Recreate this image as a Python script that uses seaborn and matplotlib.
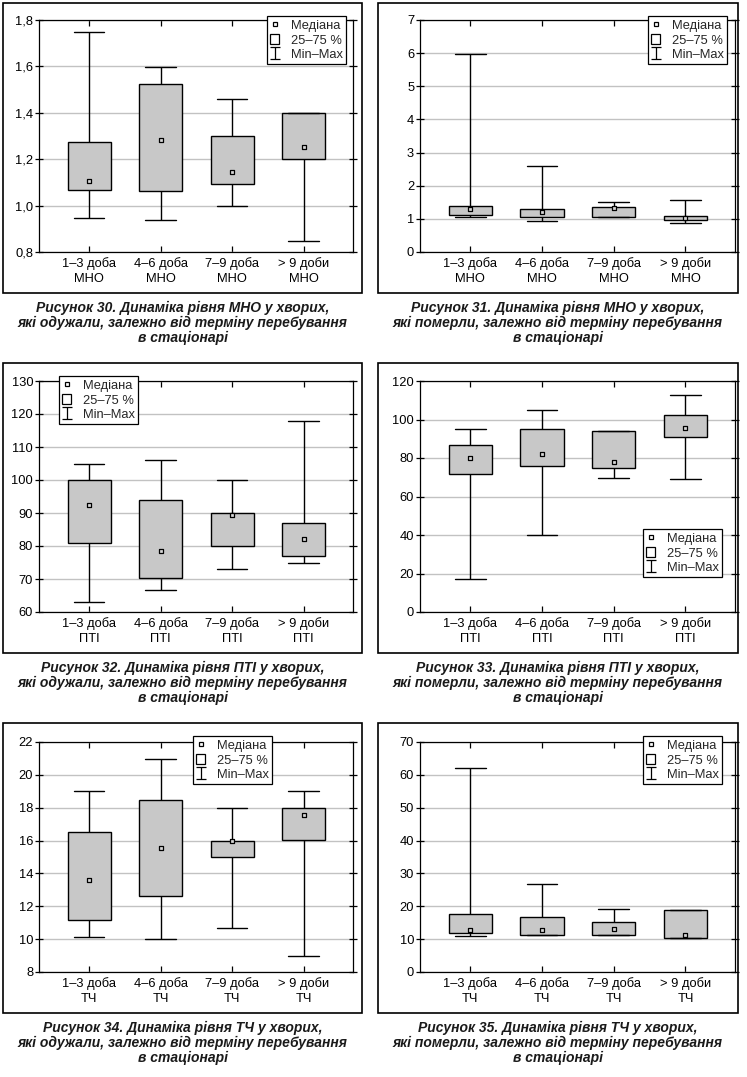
import numpy as np
import pandas as pd
import matplotlib
matplotlib.use("Agg")
import matplotlib.pyplot as plt
import seaborn as sns
from matplotlib.path import Path
from matplotlib.lines import Line2D
from matplotlib.patches import Rectangle, Patch

sns.set_theme(style="white")
plt.rcParams['font.family'] = ['Liberation Sans', 'DejaVu Sans']

periods = ["1–3 доба", "4–6 доба", "7–9 доба", "> 9 доби"]

# Рисунок 30 — МНО, одужали
f30_min = [0.948, 0.940, 1.000, 0.846]
f30_q1 = [1.069, 1.065, 1.095, 1.199]
f30_med = [1.106, 1.283, 1.144, 1.252]
f30_q3 = [1.275, 1.525, 1.298, 1.400]
f30_max = [1.750, 1.599, 1.458, 1.400]

# Рисунок 31 — МНО, померли
f31_min = [1.07, 0.95, 1.06, 0.89]
f31_q1 = [1.13, 1.06, 1.06, 0.97]
f31_med = [1.31, 1.22, 1.34, 1.03]
f31_q3 = [1.39, 1.31, 1.345, 1.10]
f31_max = [5.97, 2.59, 1.52, 1.58]

# Рисунок 32 — ПТІ, одужали
f32_min = [63.1, 66.8, 73.0, 75.0]
f32_q1 = [81.0, 70.4, 80.1, 77.1]
f32_med = [92.4, 78.4, 89.4, 82.2]
f32_q3 = [100.0, 94.0, 90.0, 87.0]
f32_max = [105.0, 106.2, 100.0, 118.0]

# Рисунок 33 — ПТІ, померли
f33_min = [17.1, 40.2, 69.8, 69.1]
f33_q1 = [71.7, 76.0, 75.0, 90.9]
f33_med = [79.8, 82.3, 78.1, 95.4]
f33_q3 = [86.8, 95.1, 94.2, 102.5]
f33_max = [95.1, 104.9, 94.2, 112.9]

# Рисунок 34 — ТЧ, одужали
f34_min = [10.15, 10.03, 10.70, 8.99]
f34_q1 = [11.18, 12.60, 14.98, 16.01]
f34_med = [13.62, 15.57, 15.99, 17.55]
f34_q3 = [16.52, 18.49, 16.00, 18.00]
f34_max = [19.01, 20.98, 18.00, 19.01]

# Рисунок 35 — ТЧ, померли
f35_min = [11.06, 11.36, 11.36, 10.45]
f35_q1 = [11.97, 11.36, 11.36, 10.45]
f35_med = [12.68, 12.90, 13.20, 11.20]
f35_q3 = [17.75, 16.70, 15.30, 19.00]
f35_max = [62.1, 26.9, 19.3, 19.0]

yticks30 = [0.8, 1.0, 1.2, 1.4, 1.6, 1.8]
ylabels30 = ["0,8", "1,0", "1,2", "1,4", "1,6", "1,8"]
yticks31 = [0, 1, 2, 3, 4, 5, 6, 7]
yticks32 = [60, 70, 80, 90, 100, 110, 120, 130]
yticks33 = [0, 20, 40, 60, 80, 100, 120]
yticks34 = [8, 10, 12, 14, 16, 18, 20, 22]
yticks35 = [0, 10, 20, 30, 40, 50, 60, 70]

legend_labels = ["Медіана", "25–75 %", "Min–Max"]

cap_tail = "залежно від терміну перебування\nв стаціонарі"
captions = [
    "Рисунок 30. Динаміка рівня МНО у хворих,\nякі одужали, " + cap_tail,
    "Рисунок 31. Динаміка рівня МНО у хворих,\nякі померли, " + cap_tail,
    "Рисунок 32. Динаміка рівня ПТІ у хворих,\nякі одужали, " + cap_tail,
    "Рисунок 33. Динаміка рівня ПТІ у хворих,\nякі померли, " + cap_tail,
    "Рисунок 34. Динаміка рівня ТЧ у хворих,\nякі одужали, " + cap_tail,
    "Рисунок 35. Динаміка рівня ТЧ у хворих,\nякі померли, " + cap_tail,
]

W, H = 747, 1077
fig = plt.figure(figsize=(W / 100, H / 100), dpi=100)
fig.patch.set_facecolor("white")

cols = [dict(al=39, ar=353, fl=3, fr=362), dict(al=420, ar=735, fl=378, fr=738)]
rows = [dict(at=20, ab=252, ft=3, fb=293),
        dict(at=381, ab=612, ft=363, fb=653),
        dict(at=742, ab=972, ft=723, fb=1013)]

panels = [
    (f30_min, f30_q1, f30_med, f30_q3, f30_max, "МНО", yticks30, ylabels30, (267, 16)),
    (f31_min, f31_q1, f31_med, f31_q3, f31_max, "МНО", yticks31, None, (648, 16)),
    (f32_min, f32_q1, f32_med, f32_q3, f32_max, "ПТІ", yticks32, None, (59, 376)),
    (f33_min, f33_q1, f33_med, f33_q3, f33_max, "ПТІ", yticks33, None, (643, 529)),
    (f34_min, f34_q1, f34_med, f34_q3, f34_max, "ТЧ", yticks34, None, (193, 736)),
    (f35_min, f35_q1, f35_med, f35_q3, f35_max, "ТЧ", yticks35, None, (643, 736)),
]

ipath = Path([(-0.8, -1), (0.8, -1), (0, -1), (0, 1), (-0.8, 1), (0.8, 1)],
             [Path.MOVETO, Path.LINETO, Path.MOVETO, Path.LINETO, Path.MOVETO, Path.LINETO])

box_gray = "#c8c8c8"

for k, (mn, q1, md, q3, mx, ind, yt, ylab, legpos) in enumerate(panels):
    c = cols[k % 2]
    r = rows[k // 2]
    ax = fig.add_axes([c["al"] / W, 1 - r["ab"] / H, (c["ar"] - c["al"]) / W, (r["ab"] - r["at"]) / H])
    ax.set_facecolor("white")
    labels = [p + "\n" + ind for p in periods]
    recs = []
    for i, lab in enumerate(labels):
        for v in (mn[i], q1[i], md[i], q3[i], mx[i]):
            recs.append((lab, v))
    df = pd.DataFrame(recs, columns=["period", "value"])
    sns.boxplot(data=df, x="period", y="value", order=labels, whis=(0, 100),
                width=0.6, color=box_gray, saturation=1, linecolor="black",
                linewidth=1.0, showfliers=False, capwidths=0.43,
                medianprops={"linewidth": 0, "alpha": 0}, ax=ax, zorder=3)
    sns.stripplot(x=labels, y=md, order=labels, jitter=False, marker="s", size=3.4,
                  color="#d8d8d8", edgecolor="black", linewidth=0.9, ax=ax, zorder=6)
    ax.set_xlim(-0.7, 3.69)
    ax.set_ylim(yt[0], yt[-1])
    ax.set_yticks(yt)
    if ylab is not None:
        ax.set_yticklabels(ylab)
    else:
        ax.set_yticklabels([str(v) for v in yt])
    ax.set_xticks(range(len(labels)))
    ax.set_xticklabels(labels, linespacing=1.3)
    ax.set_xlabel("")
    ax.set_ylabel("")
    ax.yaxis.grid(True, color="#c2c2c2", linewidth=1.0)
    ax.xaxis.grid(False)
    ax.set_axisbelow(True)
    for s in ax.spines.values():
        s.set_visible(True)
        s.set_color("black")
        s.set_linewidth(0.9)
    ax.tick_params(axis="y", direction="inout", length=6, width=0.9, left=True, right=True,
                   labelsize=9.3, pad=1.2, color="black", labelcolor="black")
    ax.tick_params(axis="x", direction="in", length=4.5, width=0.9, top=True, bottom=True,
                   labelsize=9.3, pad=4.0, color="black", labelcolor="black")

    h1 = Line2D([], [], linestyle="none", marker="s", markersize=3.4, markerfacecolor="white",
                markeredgecolor="black", markeredgewidth=0.9)
    h2 = Patch(facecolor="white", edgecolor="black", linewidth=0.9)
    h3 = Line2D([], [], linestyle="none", marker=ipath, markersize=9, markerfacecolor="none",
                markeredgecolor="black", markeredgewidth=0.9)
    leg = ax.legend([h1, h2, h3], legend_labels, loc="upper left",
                    bbox_to_anchor=(legpos[0] / W, 1 - legpos[1] / H),
                    bbox_transform=fig.transFigure, frameon=True, fancybox=False,
                    edgecolor="black", framealpha=1, fontsize=9.3, handlelength=0.7,
                    handleheight=0.9, handletextpad=0.9, labelspacing=0.13,
                    borderpad=0.25, borderaxespad=0)
    leg.get_frame().set_linewidth(0.9)
    leg.set_zorder(10)

    fig.patches.append(Rectangle((c["fl"] / W, 1 - r["fb"] / H), (c["fr"] - c["fl"]) / W,
                                 (r["fb"] - r["ft"]) / H, transform=fig.transFigure,
                                 fill=False, edgecolor="black", linewidth=1.2))
    fig.text((c["fl"] + c["fr"]) / 2 / W, 1 - (r["fb"] + 30) / H, captions[k],
             ha="center", va="center", fontsize=10, fontweight="bold", fontstyle="italic",
             linespacing=1.07, color="#1a1a1a")

fig.savefig("out.png", dpi=100, facecolor="white")
